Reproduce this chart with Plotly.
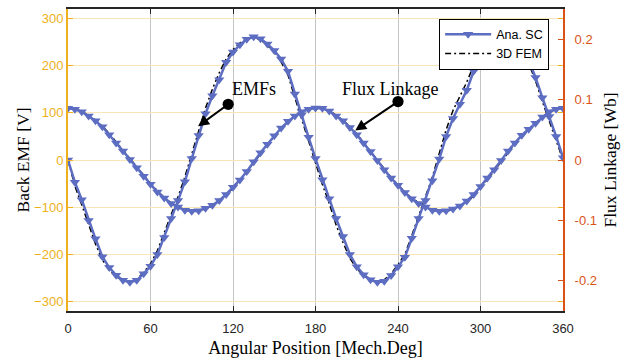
import plotly.graph_objects as go

# Rotor angle in mechanical degrees (sampled every 5 deg)
angle_deg = list(range(0, 361, 5))

# Back EMF [V] - analytical subdomain model
emf_ana = [0, -47, -84, -128, -167, -205, -228, -244, -255, -259,
           -255, -241, -225, -200, -164, -124, -86, -46, 3, 52,
           98, 136, 170, 207, 229, 244, 256, 261, 257, 246,
           232, 214, 188, 140, 96, 48, 3, -42, -82, -124,
           -162, -200, -226, -243, -254, -259, -257, -245, -226, -206,
           -166, -124, -86, -44, 2, 50, 88, 118, 148, 188,
           221, 242, 255, 260, 257, 247, 232, 212, 175, 132,
           92, 50, 5]

# Back EMF [V] - 3D finite element model
emf_fem = [0, -55, -95, -138, -178, -212, -232, -247, -256, -258,
           -253, -238, -220, -192, -155, -116, -78, -36, 12, 64,
           110, 150, 185, 214, 234, 248, 257, 260, 255, 243,
           228, 208, 180, 132, 88, 40, -6, -52, -92, -138,
           -175, -208, -230, -245, -255, -258, -254, -241, -222, -200,
           -160, -118, -78, -36, 14, 64, 105, 135, 165, 200,
           228, 246, 256, 259, 255, 244, 228, 205, 168, 124,
           84, 44, 0]

# Flux linkage [Wb] - analytical subdomain model
flux_ana = [0.0856, 0.084, 0.080, 0.073, 0.065, 0.055, 0.042, 0.028, 0.015, 0.001,
            -0.013, -0.027, -0.040, -0.053, -0.063, -0.072, -0.078, -0.083, -0.085, -0.084,
            -0.080, -0.075, -0.067, -0.057, -0.045, -0.033, -0.019, -0.003, 0.012, 0.026,
            0.040, 0.053, 0.064, 0.073, 0.080, 0.084, 0.086, 0.0855, 0.081, 0.073,
            0.065, 0.054, 0.042, 0.028, 0.014, -0.001, -0.016, -0.030, -0.042, -0.054,
            -0.064, -0.072, -0.078, -0.083, -0.085, -0.084, -0.081, -0.076, -0.068, -0.057,
            -0.044, -0.030, -0.016, -0.001, 0.015, 0.028, 0.041, 0.051, 0.061, 0.071,
            0.080, 0.084, 0.0856]

# Flux linkage [Wb] - 3D finite element model
flux_fem = [0.0858, 0.0845, 0.081, 0.074, 0.066, 0.056, 0.044, 0.030, 0.016, 0.002,
            -0.012, -0.026, -0.039, -0.051, -0.062, -0.071, -0.078, -0.083, -0.085, -0.085,
            -0.081, -0.076, -0.068, -0.058, -0.047, -0.034, -0.020, -0.005, 0.010, 0.025,
            0.039, 0.052, 0.063, 0.072, 0.079, 0.084, 0.086, 0.086, 0.082, 0.074,
            0.066, 0.055, 0.043, 0.029, 0.015, 0.000, -0.015, -0.029, -0.041, -0.053,
            -0.063, -0.071, -0.078, -0.083, -0.085, -0.085, -0.082, -0.077, -0.070, -0.059,
            -0.046, -0.032, -0.018, -0.003, 0.013, 0.027, 0.040, 0.051, 0.061, 0.071,
            0.079, 0.084, 0.0858]

x_ticks = [0, 60, 120, 180, 240, 300, 360]
emf_ticks = [-300, -200, -100, 0, 100, 200, 300]
flux_ticks = [-0.2, -0.1, 0, 0.1, 0.2]

BLUE = "#5C6DC2"
YELLOW = "#EDB120"
ORANGE = "#D95319"
DARK = "#262626"
SANS = "Liberation Sans, Arial, sans-serif"
SERIF = "Liberation Serif, Times New Roman, serif"

fig = go.Figure()

fem_line = dict(color="black", width=1.5, dash="6px,3px,2px,3px")
ana_line = dict(color=BLUE, width=2.5)
ana_marker = dict(symbol="triangle-down", size=9, color=BLUE)

fig.add_trace(go.Scatter(x=angle_deg, y=emf_fem, mode="lines", line=fem_line,
                         name="3D FEM", legendrank=2, yaxis="y"))
fig.add_trace(go.Scatter(x=angle_deg, y=emf_ana, mode="lines+markers", line=ana_line,
                         marker=ana_marker, name="Ana. SC", legendrank=1, yaxis="y"))
fig.add_trace(go.Scatter(x=angle_deg, y=flux_fem, mode="lines", line=fem_line,
                         showlegend=False, yaxis="y2"))
fig.add_trace(go.Scatter(x=angle_deg, y=flux_ana, mode="lines+markers", line=ana_line,
                         marker=ana_marker, showlegend=False, yaxis="y2"))

fig.update_layout(
    width=634, height=362,
    margin=dict(l=68, r=71, t=7, b=50),
    paper_bgcolor="white", plot_bgcolor="white",
    showlegend=True,
    legend=dict(x=0.972, y=0.968, xanchor="right", yanchor="top",
                bgcolor="white", bordercolor="black", borderwidth=1,
                font=dict(family=SANS, size=12.5, color="black"),
                tracegroupgap=0, itemwidth=46),
    xaxis=dict(range=[0, 360], tickvals=x_ticks, ticks="inside", ticklen=5,
               tickcolor=DARK, showline=True, linecolor=DARK, linewidth=1.5,
               mirror="ticks", showgrid=True, gridcolor="#C4C4C4", gridwidth=1,
               zeroline=False, ticklabelstandoff=5,
               tickfont=dict(family=SANS, size=13, color=DARK),
               title=dict(text="Angular Position [Mech.Deg]", standoff=6,
                          font=dict(family=SERIF, size=18, color="black"))),
    yaxis=dict(range=[-320, 320], tickvals=emf_ticks, ticks="inside", ticklen=5,
               tickcolor=YELLOW, showline=True, linecolor=YELLOW, linewidth=2,
               mirror="ticks", showgrid=True, gridcolor="#F8E6B8", gridwidth=1,
               zeroline=False, tickfont=dict(family=SANS, size=13, color=YELLOW),
               title=dict(text="Back EMF [V]", standoff=0,
                          font=dict(family=SERIF, size=17.5, color="black"))),
    yaxis2=dict(range=[-0.25, 0.25], tickvals=flux_ticks, ticktext=["-0.2", "-0.1", "0", "0.1", "0.2"],
                overlaying="y", side="right", ticks="inside", ticklen=5,
                tickcolor=ORANGE, showline=True, linecolor=ORANGE, linewidth=2,
                showgrid=False, zeroline=False, ticklabelstandoff=7,
                tickfont=dict(family=SANS, size=13, color=ORANGE),
                title=dict(text="Flux Linkage [Wb]", standoff=8,
                           font=dict(family=SERIF, size=17.5, color="black"))),
)

arrow_style = dict(showarrow=True, arrowside="end+start", arrowhead=2, startarrowhead=6,
                   arrowsize=1.1, startarrowsize=1.4, arrowwidth=2, arrowcolor="black",
                   axref="x", ayref="y", xref="x", yref="y", text="")
fig.add_annotation(x=94.6, y=71.5, ax=117.6, ay=120.4, **arrow_style)
fig.add_annotation(x=208.9, y=62.5, ax=241.1, ay=126, **arrow_style)

label_font = dict(family=SERIF, size=18, color="black")
fig.add_annotation(x=135.5, y=150, xref="x", yref="y", text="EMFs",
                   showarrow=False, font=label_font)
fig.add_annotation(x=234.4, y=151, xref="x", yref="y", text="Flux Linkage",
                   showarrow=False, font=label_font)

fig.write_html("out.html")
